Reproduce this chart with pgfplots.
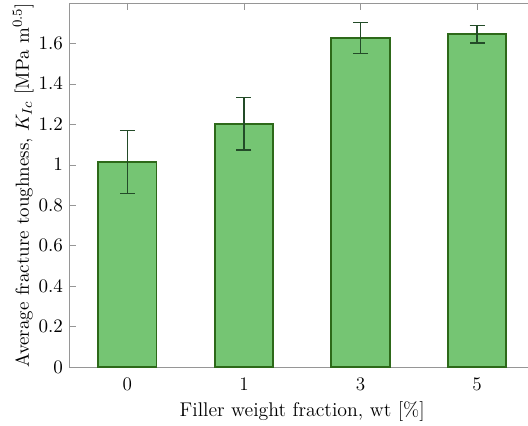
\documentclass[border=0pt]{standalone}
\usepackage{pgfplots}
\pgfplotsset{compat=1.18}
\definecolor{barfill}{RGB}{117,197,115}
\definecolor{baredge}{RGB}{45,105,25}
\definecolor{errcol}{RGB}{35,75,40}
\definecolor{axgray}{RGB}{150,150,150}
\begin{document}
\begin{tikzpicture}[x=1pt,y=1pt]
\begin{axis}[
  at={(0,0)}, anchor=south west,
  scale only axis,
  width=268.2pt, height=209.3pt,
  xmin=-0.5, xmax=3.5,
  ymin=0, ymax=1.8,
  xtick={0,1,2,3},
  xticklabels={0,1,3,5},
  ytick={0,0.2,0.4,0.6,0.8,1,1.2,1.4,1.6},
  tick align=inside,
  xtick pos=both,
  ytick pos=left,
  major tick length=4pt,
  axis line style={axgray},
  tick style={axgray},
  tick label style={font=\fontsize{11}{13}\selectfont},
  xlabel style={font=\fontsize{11.4}{13.5}\selectfont, yshift=0.5pt},
  ylabel style={font=\fontsize{10.9}{13}\selectfont, yshift=-4pt},
  xticklabel style={yshift=-2.5pt},
  xlabel={Filler weight fraction, wt [\%]},
  ylabel={Average fracture toughness, $K_{Ic}$ [MPa m$^{0.5}$]},
  clip=false,
]
\addplot[ybar, bar width=0.5, draw=baredge, line width=1.1pt, fill=barfill,
  error bars/.cd, y dir=both, y explicit,
  error bar style={draw=errcol, line width=0.8pt},
  error mark options={rotate=90, mark size=4.3pt, draw=errcol, line width=0.8pt}]
  coordinates {
    (0,1.014) +- (0,0.156)
    (1,1.203) +- (0,0.131)
    (2,1.626) +- (0,0.076)
    (3,1.646) +- (0,0.044)
  };
\end{axis}
\pgfresetboundingbox
\useasboundingbox (-39.7pt,-33.9pt) rectangle (263.9pt,211.0pt);
\end{tikzpicture}
\end{document}
